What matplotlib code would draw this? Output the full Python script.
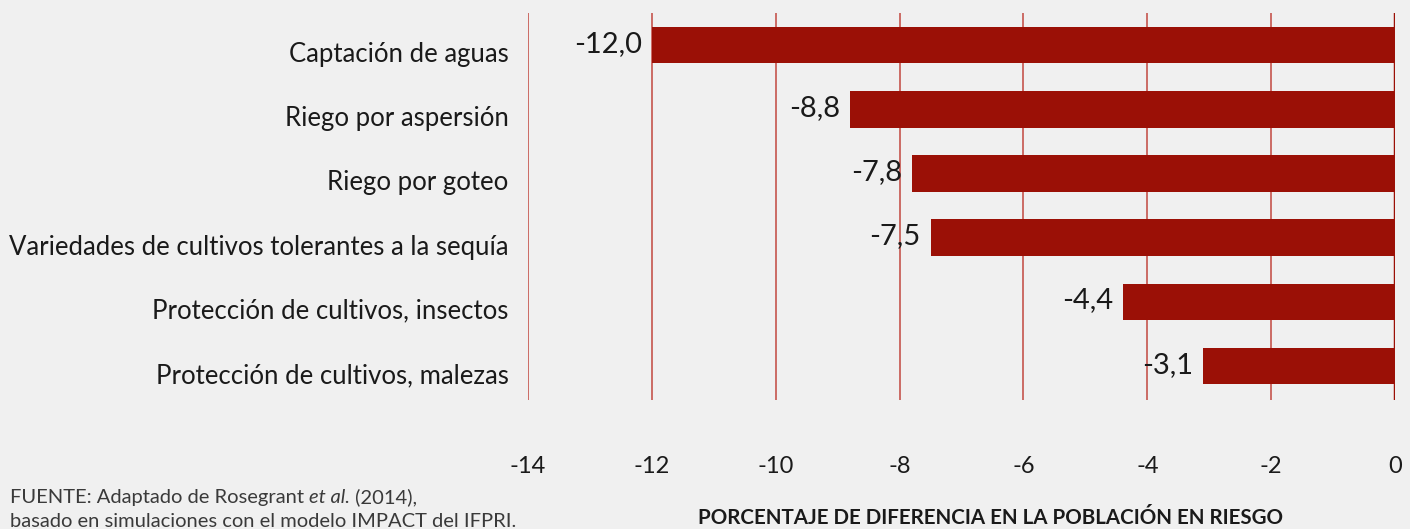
import matplotlib.pyplot as plt
import matplotlib.transforms as mtransforms

categories = [
    'Captación de aguas',
    'Riego por aspersión',
    'Riego por goteo',
    'Variedades de cultivos tolerantes a la sequía',
    'Protección de cultivos, insectos',
    'Protección de cultivos, malezas',
]
values = [-12.0, -8.8, -7.8, -7.5, -4.4, -3.1]
x_ticks = [-14, -12, -10, -8, -6, -4, -2, 0]

bg = '#f0f0f0'
bar_color = '#9b1006'
grid_color = '#c9605a'
text_color = '#1a1a1a'

plt.rcParams['font.family'] = ['Lato', 'DejaVu Sans']

fig = plt.figure(figsize=(14.1, 5.29), dpi=100, facecolor=bg)
ax = fig.add_axes([0.3745, 0.2439, 0.9894 - 0.3745, 0.9754 - 0.2439])
ax.set_facecolor(bg)

pos = list(range(len(categories)))
ax.barh(pos, values, height=0.57, color=bar_color, zorder=3)

for x in x_ticks[:-1]:
    ax.axvline(x, color=grid_color, lw=1.3, zorder=1)
ax.axvline(0, color=bar_color, lw=2.5, zorder=4)

for p, v in zip(pos, values):
    ax.annotate(f'{v:.1f}'.replace('.', ','), xy=(v, p), xytext=(-7, 1),
                textcoords='offset points', ha='right', va='center',
                fontsize=21, color=text_color, zorder=5)

ax.set_xlim(-14, 0)
ax.set_ylim(len(categories) - 0.47, -0.5)
ax.set_xticks(x_ticks)
ax.set_xticklabels([str(t) for t in x_ticks])
ax.set_yticks(pos)
ax.set_yticklabels(categories)
ax.tick_params(axis='x', length=0, pad=40, labelsize=17, labelcolor=text_color)
ax.tick_params(axis='y', length=0, pad=14, labelsize=18.5, labelcolor=text_color)
# category labels sit a little below the bar centres
shift = mtransforms.ScaledTranslation(0, -5 / 72, fig.dpi_scale_trans)
for lab in ax.get_yticklabels():
    lab.set_transform(lab.get_transform() + shift)
for s in ax.spines.values():
    s.set_visible(False)

fig.text(991 / 1410, 1 - 518 / 529, 'PORCENTAJE DE DIFERENCIA EN LA POBLACIÓN EN RIESGO',
         ha='center', va='center', fontsize=14.8, fontweight='bold', color=text_color)

src_color = '#3a3a3a'
t1 = fig.text(10 / 1410, 1 - 503 / 529, 'FUENTE: Adaptado de Rosegrant ',
              ha='left', va='baseline', fontsize=14.5, color=src_color)
t2 = ax.annotate('et al.', xy=(1, 0), xycoords=t1, ha='left', va='bottom',
                 fontsize=14.5, color=src_color, style='italic',
                 annotation_clip=False)
ax.annotate(' (2014),', xy=(1, 0), xycoords=t2, ha='left', va='bottom',
            fontsize=14.5, color=src_color, annotation_clip=False)
fig.text(10 / 1410, 1 - 527 / 529, 'basado en simulaciones con el modelo IMPACT del IFPRI.',
         ha='left', va='baseline', fontsize=14.5, color=src_color)

fig.savefig('out.png', dpi=100, facecolor=bg)
